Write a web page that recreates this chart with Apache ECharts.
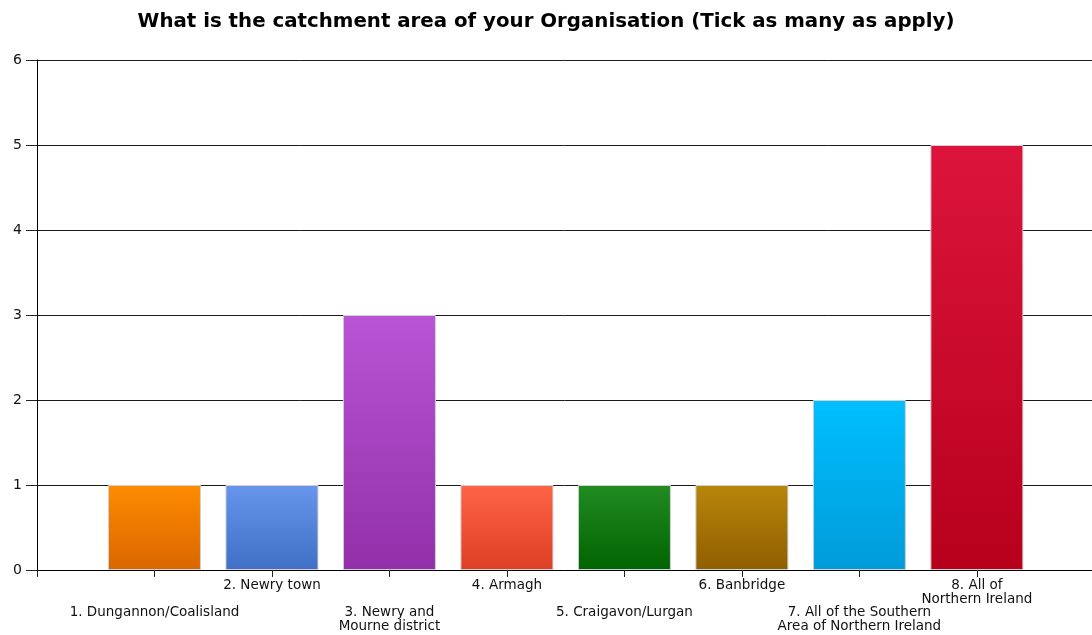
<!DOCTYPE html>
<html>
<head>
<meta charset="utf-8">
<script src="https://cdn.jsdelivr.net/npm/echarts@6/dist/echarts.min.js"></script>
<style>
    html, body { margin: 0; padding: 0; background: #fff; }
    #main { width: 1092px; height: 635px; }
</style>
</head>
<body>
<div id="main"></div>
<script>
    var categories = [
        '1. Dungannon/Coalisland',
        '2. Newry town',
        '3. Newry and\nMourne district',
        '4. Armagh',
        '5. Craigavon/Lurgan',
        '6. Banbridge',
        '7. All of the Southern\nArea of Northern Ireland',
        '8. All of\nNorthern Ireland'
    ];
    var counts = [1, 1, 3, 1, 1, 1, 2, 5];
    var yTicks = [0, 1, 2, 3, 4, 5, 6];
    // top / bottom colour of each bar's gradient
    var topColors = ['#ff8c00', '#6796ec', '#b955d4', '#ff6347', '#228b22', '#b8860b', '#00bfff', '#dc143c'];
    var bottomColors = ['#d96600', '#3f70c6', '#922fa9', '#dd3f25', '#006400', '#8f5e00', '#009bd9', '#b7001c'];

    var myChart = echarts.init(document.getElementById('main'));

    var barData = [];
    for (var i = 0; i < counts.length; i++) {
        barData.push({
            value: [i + 1, counts[i]],
            itemStyle: {
                color: new echarts.graphic.LinearGradient(0, 0, 0, 1, [
                    { offset: 0, color: topColors[i] },
                    { offset: 1, color: bottomColors[i] }
                ])
            }
        });
    }

    var option = {
        animation: false,
        backgroundColor: '#fff',
        title: {
            text: 'What is the catchment area of your Organisation (Tick as many as apply)',
            left: 'center',
            top: 7,
            textStyle: {
                fontFamily: 'DejaVu Sans',
                fontWeight: 'bold',
                fontSize: 19.8,
                color: '#000'
            }
        },
        grid: {
            left: 37,
            right: 0,
            top: 60,
            bottom: 65
        },
        xAxis: {
            type: 'value',
            min: 0,
            max: 8.98,
            interval: 1,
            axisLine: { show: true, lineStyle: { color: '#000', width: 1 } },
            axisTick: { show: true, length: 7, lineStyle: { color: '#222' } },
            splitLine: { show: false },
            axisLabel: {
                margin: 9,
                fontFamily: 'DejaVu Sans',
                fontSize: 13.5,
                color: '#111',
                lineHeight: 13.5,
                align: 'center',
                verticalAlign: 'top',
                showMaxLabel: false,
                formatter: function (v) {
                    if (v < 1 || v > categories.length) return '';
                    var txt = categories[v - 1];
                    // odd entries drop to the second row
                    return (v % 2 === 1) ? '\n\n' + txt : txt;
                }
            }
        },
        yAxis: {
            type: 'value',
            min: yTicks[0],
            max: yTicks[yTicks.length - 1],
            interval: 1,
            axisLine: { show: true, lineStyle: { color: '#000', width: 1 } },
            axisTick: { show: true, length: 11, lineStyle: { color: '#222' } },
            splitLine: { show: true, lineStyle: { color: '#1a1a1a', width: 1 } },
            axisLabel: {
                margin: 15,
                fontFamily: 'DejaVu Sans',
                fontSize: 14,
                color: '#111'
            }
        },
        series: [
            {
                type: 'bar',
                barWidth: 93,
                data: barData,
                itemStyle: {
                    borderColor: '#d0d0d0',
                    borderWidth: 1
                }
            }
        ]
    };

    myChart.setOption(option);
</script>
</body>
</html>
